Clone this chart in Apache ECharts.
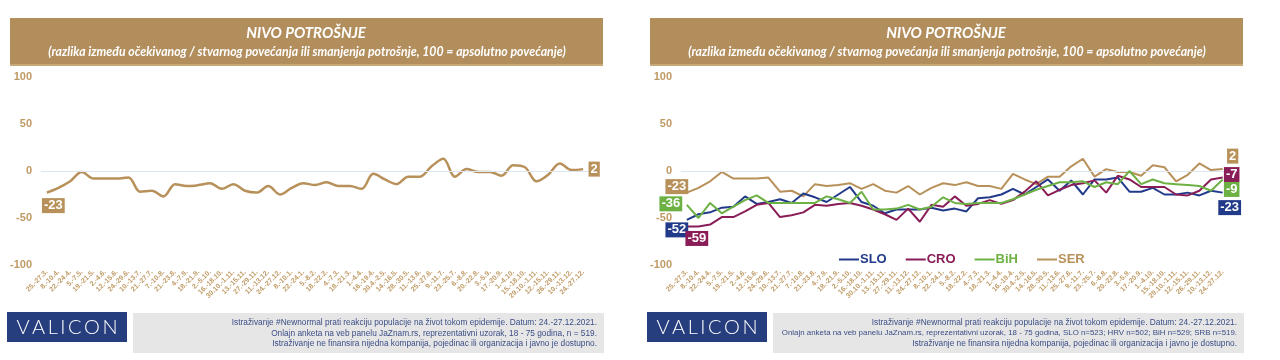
<!DOCTYPE html>
<html><head><meta charset="utf-8">
<script src="https://cdn.jsdelivr.net/npm/echarts@6/dist/echarts.min.js"></script>
<style>html,body{margin:0;padding:0;background:#fff}#c{width:1280px;height:360px}</style>
</head><body><div id="c"></div>
<script>
const categories = ['25.-27.3.','8.-10.4.','22.-24.4.','5.-7.5.','19.-21.5.','2.-4.6.','12.-15.6.','24.-29.6.','10.-13.7.','21.-27.7.','7.-10.8.','21.-23.8.','4.-7.9.','18.-21.9.','2.-5.10.','16.-18.10.','30.10.-1.11.','13.-15.11.','27.-29.11.','11.-13.12.','24.-27.12.','8.-10.1.','22.-24.1.','5.-8.2.','18.-22.2.','4.-7.3.','18.-21.3.','1.-4.4.','16.-19.4.','30.4.-2.5.','14.-16.5.','28.-30.5.','11.-13.6.','25.-27.6.','9.-11.7.','23.-25.7.','6.-8.8.','20.-22.8.','3.-5.9.','17.-20.9.','1.-4.10.','15.-18.10.','29.10.-1.11.','12.-15.11.','26.-29.11.','10.-13.12.','24.-27.12.'];
const SER = [-23,-18,-11,-1,-8,-8,-8,-7,-22,-21,-27,-14,-16,-15,-13,-19,-14,-21,-23,-16,-25,-18,-13,-15,-12,-16,-16,-19,-3,-9,-14,-6,-6,5,13,-6,2,-1,-1,-5,6,4,-11,-4,8,1,2];
const SLO = [-52,-46,-44,-39,-38,-27,-35,-33,-30,-34,-24,-28,-33,-25,-17,-33,-37,-45,-41,-41,-41,-39,-42,-40,-43,-29,-28,-25,-19,-25,-17,-9,-21,-10,-25,-9,-9,-7,-22,-22,-18,-25,-25,-23,-26,-21,-23];
const CRO = [-59,-59,-57,-49,-49,-43,-36,-34,-49,-47,-44,-36,-37,-35,-34,-37,-41,-46,-52,-40,-54,-36,-38,-27,-37,-35,-31,-35,-31,-22,-11,-26,-20,-15,-13,-10,-23,-5,-9,-17,-17,-17,-25,-26,-21,-9,-7];
const BIH = [-36,-50,-34,-45,-38,-31,-26,-34,-34,-34,-34,-34,-27,-30,-34,-22,-41,-41,-40,-36,-41,-38,-28,-34,-35,-34,-34,-34,-30,-25,-20,-16,-12,-12,-11,-17,-12,-14,0,-14,-9,-13,-14,-15,-16,-21,-9];
const yTicks = [-100, -50, 0, 50, 100];
const titleText = 'NIVO POTROŠNJE';
const subtitleText = '(razlika između očekivanog / stvarnog povećanja ili smanjenja potrošnje, 100 = apsolutno povećanje)';
const logoText = 'VALICON';
const footLeft = ['Istraživanje #Newnormal prati reakciju populacije na život tokom epidemije. Datum: 24.-27.12.2021.','Onlajn anketa na veb panelu JaZnam.rs, reprezentativni uzorak, 18 - 75 godina, n = 519.','Istraživanje ne finansira nijedna kompanija, pojedinac ili organizacija i javno je dostupno.'];
const footRight = ['Istraživanje #Newnormal prati reakciju populacije na život tokom epidemije. Datum: 24.-27.12.2021.','Onlajn anketa na veb panelu JaZnam.rs, reprezentativni uzorak, 18 - 75 godina, SLO n=523; HRV n=502; BiH n=529; SRB n=519.','Istraživanje ne finansira nijedna kompanija, pojedinac ili organizacija i javno je dostupno.'];

const GOLD = '#b8915a', BLUE = '#223a8a', MAROON = '#8a1d58', GREEN = '#6db144';

const chart = echarts.init(document.getElementById('c'));

function endPoints(arr, color, offFirst, offLast) {
  const n = arr.length - 1;
  const lab = (off) => ({show:true, position:'inside', offset:off, color:'#fff', fontFamily:'Liberation Sans', fontWeight:'bold', fontSize:13, lineHeight:14, padding:[1,2,0,2], backgroundColor:color, formatter: p => String(p.value)});
  const d = [];
  if (offFirst) d.push({coord:[0, arr[0]], value: arr[0], label: lab(offFirst)});
  if (offLast) d.push({coord:[n, arr[n]], value: arr[n], label: lab(offLast)});
  return {symbol:'rect', symbolSize:0, silent:true, data:d};
}
const zeroLine = {silent:true, symbol:'none', label:{show:false}, lineStyle:{color:'#dce6f2', width:1, type:'solid'}, data:[{yAxis:0}]};

function xAx(gi) {
  return {type:'category', gridIndex:gi, data:categories, boundaryGap:true,
    axisLine:{show:false}, axisTick:{show:false},
    axisLabel:{interval:0, rotate:45, margin:6, fontSize:7, fontWeight:'bold', color:'#c09b66', fontFamily:'Liberation Sans'}};
}
function yAx(gi) {
  return {type:'value', gridIndex:gi, min:yTicks[0], max:yTicks[yTicks.length-1], interval:50,
    axisLine:{show:false}, axisTick:{show:false}, splitLine:{show:false},
    axisLabel:{margin:9, fontSize:11, fontWeight:'bold', color:'#bf9a64', fontFamily:'Liberation Sans'}};
}

const graphics = [];
[0, 640].forEach((ox, k) => {
  graphics.push({type:'rect', left:ox+10, top:18, shape:{width:593, height:47}, style:{fill:'#b38e5d'}, z:0});
  graphics.push({type:'rect', left:ox+10, top:64, shape:{width:593, height:2}, style:{fill:'#c9a877'}, z:0});
  graphics.push({type:'text', x:ox+306, y:33, style:{text:titleText, fill:'#fff', font:'italic bold 15px Lato', align:'center', verticalAlign:'middle'}, z:1});
  graphics.push({type:'text', x:ox+307, y:52, style:{text:subtitleText, fill:'#fff', font:'italic bold 12.3px Lato', align:'center', verticalAlign:'middle'}, z:1});
  graphics.push({type:'rect', left:ox+7, top:312, shape:{width:120, height:30}, style:{fill:'#263d7e'}, z:0});
  graphics.push({type:'text', x:ox+67, y:327.5, style:{text:logoText.split('').join('\u2009'), fill:'#fff', font:'300 20px Lato', align:'center', verticalAlign:'middle'}, z:1});
  graphics.push({type:'rect', left:ox+133, top:313, shape:{width:471, height:40}, style:{fill:'#e6e6e6'}, z:0});
  const lines = k === 0 ? footLeft : footRight;
  lines.forEach((t, i) => {
    const fs = (k === 1 && i === 1) ? 7.9 : 8.3;
    graphics.push({type:'text', x:ox+597, y:323 + i*10.3, style:{text:t, fill:'#3b4d86', font:fs + 'px "Liberation Sans Narrow", "Liberation Sans"', align:'right', verticalAlign:'middle'}, z:1});
  });
});

const option = {
  animation:false,
  backgroundColor:'#fff',
  grid:[
    {left:41, right:691, top:77, bottom:95},
    {left:681, right:51.5, top:77, bottom:95}
  ],
  xAxis:[xAx(0), xAx(1)],
  yAxis:[yAx(0), yAx(1)],
  legend:{
    left:834, top:248, itemWidth:20, itemHeight:14, itemGap:19,
    icon:'path://M0,6 L20,6 L20,8 L0,8 Z',
    textStyle:{fontFamily:'Liberation Sans', fontWeight:'bold', fontSize:13, padding:[0,0,0,-4]},
    data:[
      {name:'SLO', textStyle:{color:BLUE}},
      {name:'CRO', textStyle:{color:MAROON}},
      {name:'BiH', textStyle:{color:GREEN}},
      {name:'SER', textStyle:{color:GOLD}}
    ]
  },
  graphic: graphics,
  series:[
    {name:'SER_left', type:'line', xAxisIndex:0, yAxisIndex:0, data:SER, smooth:0.35, symbol:'none',
      lineStyle:{color:GOLD, width:2.5}, itemStyle:{color:GOLD},
      markLine: zeroLine, markPoint: endPoints(SER, GOLD, [6.5,13], [11,0]), z:3},
    {name:'SER', type:'line', xAxisIndex:1, yAxisIndex:1, data:SER, symbol:'none',
      lineStyle:{color:GOLD, width:2}, itemStyle:{color:GOLD},
      markLine: zeroLine, markPoint: endPoints(SER, GOLD, [-10,-6], [10,-13]), z:2},
    {name:'SLO', type:'line', xAxisIndex:1, yAxisIndex:1, data:SLO, symbol:'none',
      lineStyle:{color:BLUE, width:2}, itemStyle:{color:BLUE},
      markPoint: endPoints(SLO, BLUE, [-10,10], [7,15]), z:3},
    {name:'CRO', type:'line', xAxisIndex:1, yAxisIndex:1, data:CRO, symbol:'none',
      lineStyle:{color:MAROON, width:2}, itemStyle:{color:MAROON},
      markPoint: endPoints(CRO, MAROON, [10,12], [9,-3]), z:4},
    {name:'BiH', type:'line', xAxisIndex:1, yAxisIndex:1, data:BIH, symbol:'none',
      lineStyle:{color:GREEN, width:2}, itemStyle:{color:GREEN},
      markPoint: endPoints(BIH, GREEN, [-16,-1], [9,10]), z:5}
  ]
};
chart.setOption(option);
</script>
</body></html>
